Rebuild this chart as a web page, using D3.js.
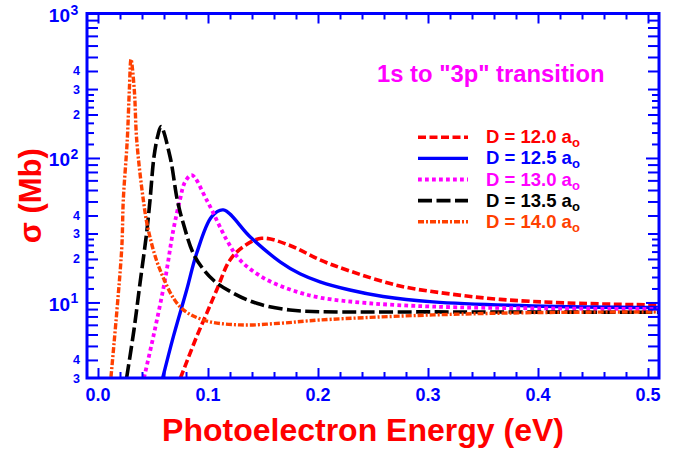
<!DOCTYPE html>
<html><head><meta charset="utf-8">
<script src="https://cdn.jsdelivr.net/npm/d3@7"></script>
<style>
body{margin:0;background:#fff}
svg{display:block}
text{font-family:"Liberation Sans",Arial,Helvetica,sans-serif;font-weight:bold}
</style>
</head><body>
<svg id="chart" width="687" height="452"></svg>
<script>
// ---- data ----
const seriesLabels = ["D = 12.0 a", "D = 12.5 a", "D = 13.0 a", "D = 13.5 a", "D = 14.0 a"];
const seriesColors = ["#ff0000", "#0000ff", "#ff00ff", "#000000", "#ff4000"];

const energy120 = [0.075, 0.0897, 0.0988, 0.1079, 0.120, 0.1321, 0.1488, 0.1745, 0.2018, 0.229, 0.2745, 0.32, 0.3655, 0.4264, 0.509];
const sigma120  = [3.0, 5.8, 8.4, 12.2, 19.7, 24.3, 27.8, 24.8, 19.7, 16.5, 13.0, 11.45, 10.5, 9.92, 9.6];

const energy125 = [0.0588, 0.0685, 0.0806, 0.0897, 0.1034, 0.1139, 0.1382, 0.1655, 0.1836, 0.2018, 0.229, 0.2591, 0.3045, 0.3955, 0.509];
const sigma125  = [3.0, 5.8, 12.2, 21.9, 39.3, 43.7, 28.5, 19.1, 15.8, 13.9, 12.2, 11.0, 10.1, 9.46, 9.22];

const energy130 = [0.0418, 0.0503, 0.0609, 0.0685, 0.0745, 0.079, 0.0852, 0.0988, 0.117, 0.129, 0.1503, 0.1745, 0.2018, 0.245, 0.3045, 0.40, 0.509];
const sigma130  = [3.0, 5.8, 14.3, 31.8, 51.2, 68, 76, 51.2, 27.1, 19.7, 14.8, 12.3, 10.8, 9.9, 9.36, 9.1, 9.0];

const energy135 = [0.026, 0.0327, 0.0382, 0.0443, 0.0473, 0.0509, 0.0545, 0.0573, 0.0655, 0.0721, 0.0775, 0.0882, 0.1048, 0.123, 0.1443, 0.1745, 0.2018, 0.3045, 0.509];
const sigma135  = [3.0, 6.46, 13.6, 30.7, 51.2, 102, 144, 165, 102, 51.2, 35.3, 20.7, 14.3, 11.6, 9.86, 8.86, 8.63, 8.6, 8.55];

const energy140 = [0.0118, 0.0215, 0.0230, 0.0266, 0.0285, 0.0300, 0.0330, 0.0352, 0.0412, 0.0457, 0.0564, 0.0745, 0.0957, 0.1291, 0.1655, 0.2018, 0.3045, 0.3955, 0.509];
const sigma140  = [3.05, 23.1, 51.2, 133, 296, 482, 296, 133, 51.2, 31.8, 16.8, 9.35, 7.56, 6.99, 7.18, 7.56, 8.2, 8.5, 8.6];

const xMajorTicks = [0.0, 0.1, 0.2, 0.3, 0.4, 0.5];
const xMajorLabels = ["0.0", "0.1", "0.2", "0.3", "0.4", "0.5"];
const xMinorTicks = [0.02, 0.04, 0.06, 0.08, 0.12, 0.14, 0.16, 0.18, 0.22, 0.24, 0.26, 0.28, 0.32, 0.34, 0.36, 0.38, 0.42, 0.44, 0.46, 0.48];

const yDecadeTicks = [10, 100, 1000];
const yIntTicks = [4, 5, 6, 7, 8, 9, 20, 30, 40, 50, 60, 70, 80, 90, 200, 300, 400, 500, 600, 700, 800, 900];
const yFracTicks = [12.5, 15, 17.5, 22.5, 25, 27.5, 125, 150, 175, 225, 250, 275];
const yDecadeLabels = [1000, 100, 10];
const yDecadeExp = ["3", "2", "1"];
const ySmallLabelValues = [400, 300, 200, 40, 30, 20, 4, 3];
const ySmallLabelText = ["4", "3", "2", "4", "3", "2", "4", "3"];

// ---- drawing ----
const svg = d3.select("#chart");
const L = 87, R = 659, T = 13.5, B = 378;
const x = d3.scaleLinear().domain([-0.01, 0.51]).range([L, R]);
const y = d3.scaleLog().domain([3, 1000]).range([B, T]);
const blue = "#0000ff";

svg.append("defs").append("clipPath").attr("id", "clip")
  .append("rect").attr("x", L).attr("y", T).attr("width", R - L).attr("height", B - T);

const series = [
  {e: energy120, s: sigma120, dash: "8,3.5", w: 3.6},
  {e: energy125, s: sigma125, dash: null, w: 3.4},
  {e: energy130, s: sigma130, dash: "3.8,3.2", w: 3.8},
  {e: energy135, s: sigma135, dash: "14,4.5", w: 3.6},
  {e: energy140, s: sigma140, dash: "6,2,2,2", w: 3.4}
];

const line = d3.line().x(d => x(d[0])).y(d => y(d[1])).curve(d3.curveCatmullRom.alpha(0.5));
const gLines = svg.append("g").attr("clip-path", "url(#clip)");
series.forEach((sr, i) => {
  const pts = sr.e.map((v, k) => [v, sr.s[k]]);
  gLines.append("path").datum(pts)
    .attr("d", line)
    .attr("fill", "none")
    .attr("stroke", seriesColors[i])
    .attr("stroke-width", sr.w)
    .attr("stroke-dasharray", sr.dash)
    .attr("stroke-linejoin", "round");
});

function styleAxis(g) {
  g.select(".domain").remove();
  g.selectAll(".tick line").attr("stroke", blue).attr("stroke-width", 2);
  g.selectAll(".tick text").remove();
}
// bottom / top axes
svg.append("g").attr("transform", `translate(0,${B})`)
  .call(d3.axisBottom(x).tickValues(xMajorTicks).tickSize(-10).tickSizeOuter(0)).call(styleAxis);
svg.append("g").attr("transform", `translate(0,${B})`)
  .call(d3.axisBottom(x).tickValues(xMinorTicks).tickSize(-6).tickSizeOuter(0)).call(styleAxis);
svg.append("g").attr("transform", `translate(0,${T})`)
  .call(d3.axisTop(x).tickValues(xMajorTicks).tickSize(-10).tickSizeOuter(0)).call(styleAxis);
svg.append("g").attr("transform", `translate(0,${T})`)
  .call(d3.axisTop(x).tickValues(xMinorTicks).tickSize(-6).tickSizeOuter(0)).call(styleAxis);
// left / right axes
[[d3.axisLeft, L], [d3.axisRight, R]].forEach(([ax, pos]) => {
  svg.append("g").attr("transform", `translate(${pos},0)`)
    .call(ax(y).tickValues(yDecadeTicks).tickSize(-13).tickSizeOuter(0)).call(styleAxis);
  svg.append("g").attr("transform", `translate(${pos},0)`)
    .call(ax(y).tickValues(yIntTicks).tickSize(-11).tickSizeOuter(0)).call(styleAxis);
  svg.append("g").attr("transform", `translate(${pos},0)`)
    .call(ax(y).tickValues(yFracTicks).tickSize(-7).tickSizeOuter(0)).call(styleAxis);
});

// frame
svg.append("rect").attr("x", L).attr("y", T).attr("width", R - L).attr("height", B - T)
  .attr("fill", "none").attr("stroke", blue).attr("stroke-width", 3);

// x tick labels
svg.append("g").selectAll("text").data(xMajorTicks).join("text")
  .attr("x", d => x(d)).attr("y", 401)
  .attr("text-anchor", "middle").attr("font-size", 18).attr("fill", blue)
  .text((d, i) => xMajorLabels[i]);

// y decade labels
yDecadeLabels.forEach((v, i) => {
  svg.append("text").attr("x", 70).attr("y", y(v) + 8.5)
    .attr("text-anchor", "end").attr("font-size", 19).attr("fill", blue).text("10");
  svg.append("text").attr("x", 70.5).attr("y", y(v) + 1)
    .attr("font-size", 14).attr("fill", blue).text(yDecadeExp[i]);
});
// y small labels
svg.append("g").selectAll("text").data(ySmallLabelValues).join("text")
  .attr("x", 80).attr("y", d => y(d) + 4.5)
  .attr("text-anchor", "end").attr("font-size", 12.5).attr("fill", blue)
  .text((d, i) => ySmallLabelText[i]);

// axis titles
svg.append("text").attr("x", (L + R) / 2 - 10).attr("y", 441)
  .attr("text-anchor", "middle").attr("font-size", 32).attr("fill", "#ff0000")
  .text("Photoelectron Energy (eV)");
svg.append("text").attr("transform", `translate(41,${(T + B) / 2}) rotate(-90)`)
  .attr("text-anchor", "middle").attr("font-size", 31).attr("fill", "#ff0000")
  .text("σ (Mb)");

// annotation
svg.append("text").attr("x", 377).attr("y", 82)
  .attr("font-size", 23.8).attr("fill", "#ff00ff")
  .text("1s to \"3p\" transition");

// legend
const lg = svg.append("g");
seriesLabels.forEach((lab, i) => {
  const yy = 137.3 + i * 21.1;
  lg.append("line").attr("x1", 418).attr("x2", 468).attr("y1", yy).attr("y2", yy)
    .attr("stroke", seriesColors[i]).attr("stroke-width", series[i].w)
    .attr("stroke-dasharray", series[i].dash);
  const t = lg.append("text").attr("x", 486).attr("y", yy + 6)
    .attr("font-size", 18.5).attr("fill", seriesColors[i]).text(lab);
  t.append("tspan").attr("font-size", 13).attr("dy", 4).text("o");
});
</script>
</body></html>
